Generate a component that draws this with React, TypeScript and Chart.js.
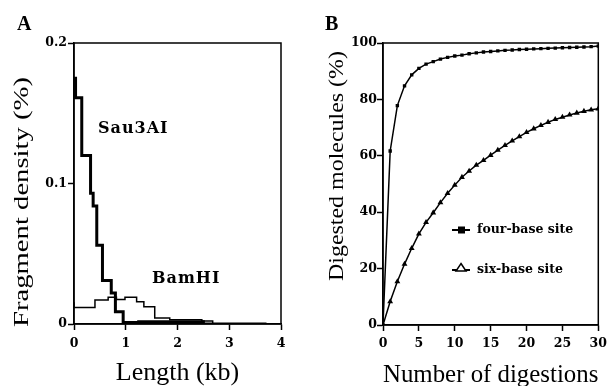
import React, { useEffect, useRef } from "react";
import { Chart, registerables } from "chart.js";

Chart.register(...registerables);

// ---------- Panel A data ----------
const lengthTicks = [0, 1, 2, 3, 4];
const densityTicks = [0, 0.1, 0.2];
const sau3aiEdges = [0.03, 0.15, 0.32, 0.37, 0.44, 0.55, 0.72, 0.8, 0.95, 1.25, 2.5, 3.72];
const sau3aiDensity = [0.176, 0.161, 0.12, 0.093, 0.084, 0.056, 0.031, 0.022, 0.0087, 0.0011, 0.0016, 0];
const bamhiEdges = [0, 0.405, 0.66, 0.82, 0.985, 1.21, 1.35, 1.56, 1.85, 2.47, 2.68, 3.72];
const bamhiDensity = [0.0154, 0.0118, 0.017, 0.019, 0.0175, 0.019, 0.0158, 0.0123, 0.0042, 0.003, 0.0022, 0];

// ---------- Panel B data ----------
const digestionTicks = [0, 5, 10, 15, 20, 25, 30];
const percentTicks = [0, 20, 40, 60, 80, 100];
const digestions = [0, 1, 2, 3, 4, 5, 6, 7, 8, 9, 10, 11, 12, 13, 14, 15, 16, 17, 18, 19, 20, 21, 22, 23, 24, 25, 26, 27, 28, 29, 30];
const fourBase = [0, 61.7, 77.8, 84.8, 88.7, 91.0, 92.5, 93.4, 94.3, 94.9, 95.4, 95.7, 96.2, 96.5, 96.8, 97.0, 97.2, 97.4, 97.5, 97.7, 97.8, 97.9, 98.0, 98.1, 98.2, 98.3, 98.4, 98.5, 98.6, 98.7, 98.9];
const sixBase = [0, 8.3, 15.4, 21.6, 27.2, 32.3, 36.4, 39.8, 43.4, 46.7, 49.6, 52.4, 54.6, 56.7, 58.4, 60.2, 62.0, 63.7, 65.3, 66.8, 68.3, 69.6, 70.8, 71.9, 72.9, 73.7, 74.5, 75.2, 75.8, 76.3, 76.7];

const TICK_FONT = { family: "'DejaVu Serif'", size: 12.5, weight: "bold" as const };
const TITLE_FAMILY = "'Liberation Serif', 'Times New Roman', serif";

function drawVTitle(ctx: CanvasRenderingContext2D, text: string, cx: number, cy: number, length: number, font: string) {
  ctx.save();
  ctx.font = font;
  ctx.fillStyle = "#000";
  ctx.textAlign = "center";
  ctx.textBaseline = "middle";
  ctx.translate(cx, cy);
  ctx.rotate(-Math.PI / 2);
  const w = ctx.measureText(text).width;
  ctx.scale(length / w, 1);
  ctx.fillText(text, 0, 0);
  ctx.restore();
}

const framePlugin = {
  id: "frame",
  afterDraw(chart: any) {
    const { ctx, chartArea } = chart;
    ctx.save();
    ctx.strokeStyle = "#000";
    ctx.lineWidth = 1.5;
    ctx.strokeRect(chartArea.left, chartArea.top, chartArea.right - chartArea.left, chartArea.bottom - chartArea.top);
    ctx.restore();
  },
};

const panelAText = {
  id: "panelAText",
  afterDraw(chart: any) {
    const ctx: CanvasRenderingContext2D = chart.ctx;
    ctx.save();
    ctx.fillStyle = "#000";
    ctx.font = `bold 20px ${TITLE_FAMILY}`;
    ctx.textBaseline = "alphabetic";
    ctx.textAlign = "left";
    ctx.fillText("A", 17, 30);
    ctx.font = "bold 16px 'DejaVu Serif'";
    ctx.textBaseline = "middle";
    (ctx as any).letterSpacing = "1px";
    ctx.fillText("Sau3AI", 98, 129);
    ctx.fillText("BamHI", 152, 279);
    (ctx as any).letterSpacing = "0px";
    ctx.restore();
    drawVTitle(ctx, "Fragment density (%)", 22, 202, 250, `22px ${TITLE_FAMILY}`);
  },
};

const panelBText = {
  id: "panelBText",
  afterDraw(chart: any) {
    const ctx: CanvasRenderingContext2D = chart.ctx;
    ctx.save();
    ctx.fillStyle = "#000";
    ctx.strokeStyle = "#000";
    ctx.font = `bold 20px ${TITLE_FAMILY}`;
    ctx.textBaseline = "alphabetic";
    ctx.textAlign = "left";
    ctx.fillText("B", 25, 30);
    // legend
    ctx.lineWidth = 2;
    ctx.beginPath();
    ctx.moveTo(152, 230);
    ctx.lineTo(170, 230);
    ctx.stroke();
    ctx.fillRect(158, 226.5, 7, 7);
    ctx.beginPath();
    ctx.moveTo(152, 270);
    ctx.lineTo(170, 270);
    ctx.stroke();
    ctx.lineWidth = 1.5;
    ctx.fillStyle = "#fff";
    ctx.beginPath();
    ctx.moveTo(161, 263.5);
    ctx.lineTo(166, 271);
    ctx.lineTo(156, 271);
    ctx.closePath();
    ctx.fill();
    ctx.stroke();
    ctx.fillStyle = "#000";
    ctx.font = "bold 12.5px 'DejaVu Serif'";
    ctx.textBaseline = "middle";
    ctx.fillText("four-base site", 177, 230);
    ctx.fillText("six-base site", 177, 270);
    ctx.restore();
    drawVTitle(ctx, "Digested molecules (%)", 37, 166, 230, `22px ${TITLE_FAMILY}`);
  },
};

function axisCommon(tickValues: number[], min: number, max: number) {
  return {
    type: "linear" as const,
    min,
    max,
    afterBuildTicks: (s: any) => {
      s.ticks = tickValues.map((v) => ({ value: v }));
    },
    grid: {
      display: true,
      drawOnChartArea: false,
      drawTicks: true,
      tickLength: 6,
      tickWidth: 1.5,
      tickColor: "#000",
      color: "#000",
    },
    border: { display: true, color: "#000", width: 1.5 },
  };
}

function makeConfigA(): any {
  return {
    type: "line",
    data: {
      datasets: [
        {
          label: "Sau3AI",
          data: sau3aiEdges.map((x, i) => ({ x, y: sau3aiDensity[i] })),
          stepped: "after",
          borderColor: "#000",
          borderWidth: 3,
          pointRadius: 0,
          fill: false,
        },
        {
          label: "BamHI",
          data: bamhiEdges.map((x, i) => ({ x, y: bamhiDensity[i] })),
          stepped: "after",
          borderColor: "#000",
          borderWidth: 1.5,
          pointRadius: 0,
          fill: false,
        },
      ],
    },
    options: {
      responsive: false,
      animation: false,
      layout: { padding: { top: 43, right: 19, left: 0, bottom: 0 } },
      plugins: { legend: { display: false }, tooltip: { enabled: false } },
      scales: {
        x: {
          ...axisCommon(lengthTicks, 0, 4),
          afterFit: (s: any) => {
            s.height = 62;
          },
          ticks: { font: TICK_FONT, color: "#000", padding: 6, maxRotation: 0, callback: (v: any) => String(v) },
          title: {
            display: true,
            text: "Length (kb)",
            color: "#000",
            font: { family: TITLE_FAMILY, size: 26, lineHeight: 1 },
            padding: { top: 0, bottom: 0 },
          },
        },
        y: {
          ...axisCommon(densityTicks, 0, 0.2),
          afterFit: (s: any) => {
            s.width = 74;
          },
          ticks: { font: TICK_FONT, color: "#000", padding: 1, callback: (v: any) => (v === 0 ? "0" : Number(v).toFixed(1)) },
        },
      },
    },
    plugins: [framePlugin, panelAText],
  };
}

function makeConfigB(): any {
  return {
    type: "line",
    data: {
      labels: digestions,
      datasets: [
        {
          label: "four-base site",
          data: digestions.map((x, i) => ({ x, y: fourBase[i] })),
          borderColor: "#000",
          backgroundColor: "#000",
          borderWidth: 1.5,
          pointStyle: "rect",
          pointRadius: 2.4,
          pointBorderWidth: 0,
          fill: false,
          tension: 0,
        },
        {
          label: "six-base site",
          data: digestions.map((x, i) => ({ x, y: sixBase[i] })),
          borderColor: "#000",
          backgroundColor: "#000",
          borderWidth: 1.5,
          pointStyle: "triangle",
          pointRadius: 3.4,
          pointBorderWidth: 0,
          fill: false,
          tension: 0,
        },
      ],
    },
    options: {
      responsive: false,
      animation: false,
      layout: { padding: { top: 43, right: 9, left: 0, bottom: 0 } },
      plugins: { legend: { display: false }, tooltip: { enabled: false } },
      scales: {
        x: {
          ...axisCommon(digestionTicks, 0, 30),
          afterFit: (s: any) => {
            s.height = 61;
          },
          ticks: { font: TICK_FONT, color: "#000", padding: 5, maxRotation: 0, autoSkip: false },
          title: {
            display: true,
            text: "Number of digestions",
            color: "#000",
            font: { family: TITLE_FAMILY, size: 26, lineHeight: 0.85 },
            padding: { top: 0, bottom: 0 },
          },
        },
        y: {
          ...axisCommon(percentTicks, 0, 100),
          afterFit: (s: any) => {
            s.width = 83;
          },
          ticks: { font: TICK_FONT, color: "#000", padding: 0 },
        },
      },
    },
    plugins: [framePlugin, panelBText],
  };
}

function ChartCanvas({ width, height, left, makeConfig }: { width: number; height: number; left: number; makeConfig: () => any }) {
  const ref = useRef<HTMLCanvasElement | null>(null);
  useEffect(() => {
    if (!ref.current) return;
    const chart = new Chart(ref.current, makeConfig());
    return () => chart.destroy();
  }, [makeConfig]);
  return (
    <canvas
      ref={ref}
      width={width}
      height={height}
      style={{ position: "absolute", left, top: 0, width, height, display: "block" }}
    />
  );
}

export default function App() {
  return (
    <div style={{ position: "fixed", left: 0, top: 0, width: 612, height: 386, background: "#fff", overflow: "hidden" }}>
      <ChartCanvas width={300} height={386} left={0} makeConfig={makeConfigA} />
      <ChartCanvas width={312} height={386} left={300} makeConfig={makeConfigB} />
    </div>
  );
}
